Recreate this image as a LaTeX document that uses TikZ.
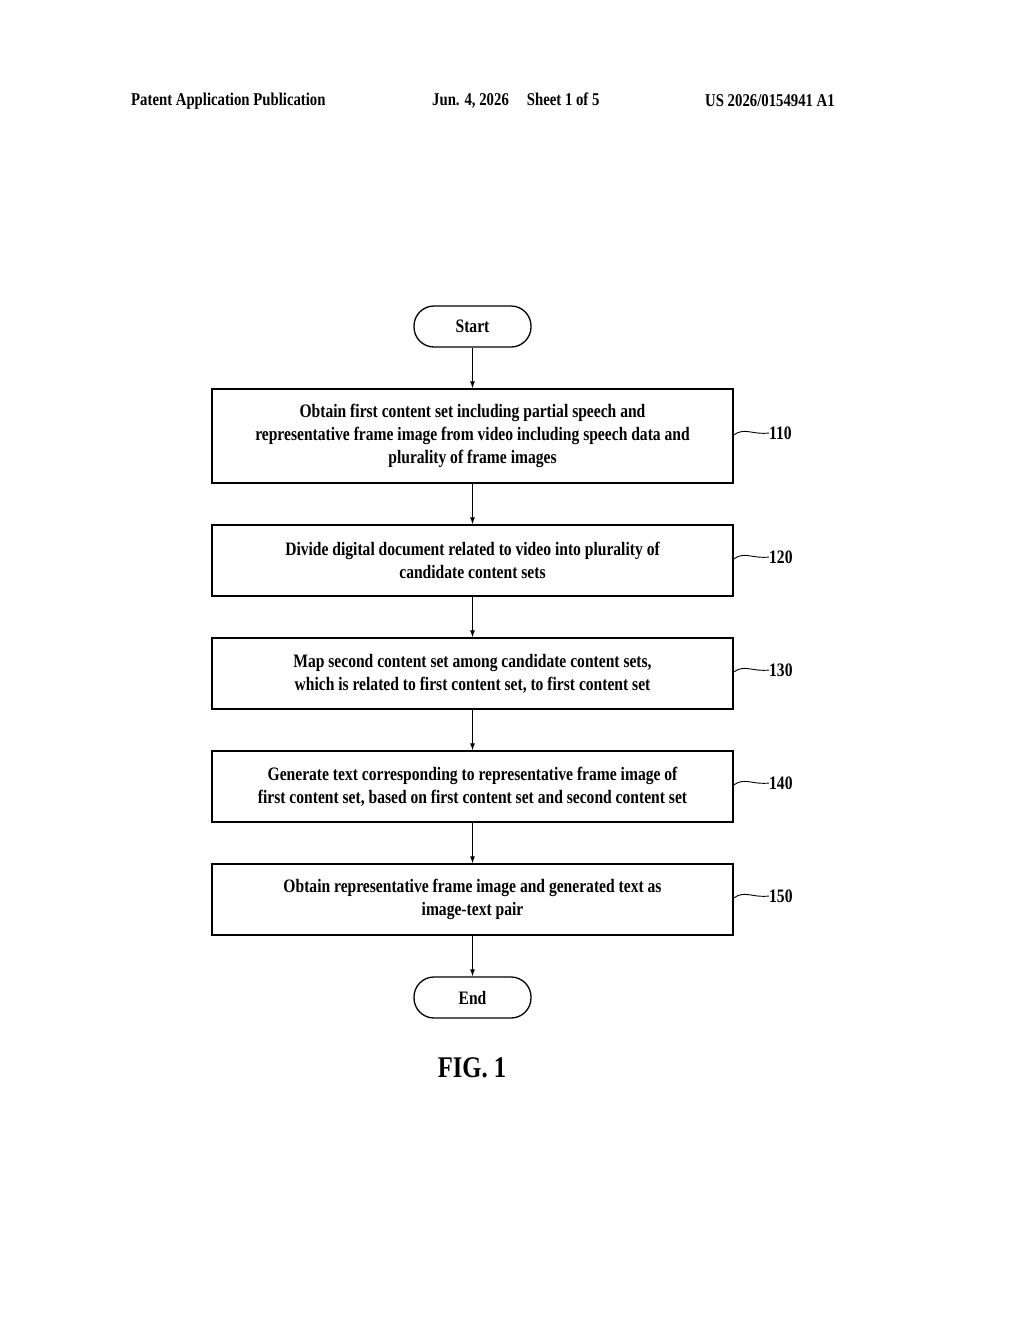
\documentclass[tikz,border=0pt]{standalone}
\usepackage{fontspec}
\setmainfont{Liberation Serif}[FakeStretch=0.82]
\usetikzlibrary{arrows.meta}
\begin{document}
\begin{tikzpicture}[x=1pt,y=-1pt,
  box/.style={draw,line width=1.3pt,minimum width=521pt,align=center,font=\bfseries\fontsize{19}{23}\selectfont,inner sep=0pt},
  term/.style={draw,line width=1.3pt,rounded corners=20pt,minimum width=117pt,minimum height=41pt,font=\bfseries\fontsize{19}{23}\selectfont},
  arr/.style={line width=1pt,-{Latex[length=7pt,width=5pt]}},
  lab/.style={font=\bfseries\fontsize{19}{23}\selectfont,anchor=west,inner sep=0pt},
  hdr/.style={font=\bfseries\fontsize{18}{22}\selectfont,anchor=west,inner sep=0pt}]
\useasboundingbox (0,0) rectangle (1024,1320);
\node[hdr] (h1) at (131,101) {Patent Application Publication};
\node[hdr] (h2) at (432,101) {Jun. 4, 2026\quad Sheet 1 of 5};
\node[hdr] (h3) at (705,101) {US 2026/0154941 A1};
\node[term] (s) at (472.5,326.5) {Start};
\node[box,minimum height=94pt] (b1) at (472.5,436) {Obtain first content set including partial speech and\\representative frame image from video including speech data and\\plurality of frame images};
\node[box,minimum height=71pt] (b2) at (472.5,560.5) {Divide digital document related to video into plurality of\\candidate content sets};
\node[box,minimum height=71pt] (b3) at (472.5,673.5) {Map second content set among candidate content sets,\\which is related to first content set, to first content set};
\node[box,minimum height=71pt] (b4) at (472.5,786.5) {Generate text corresponding to representative frame image of\\first content set, based on first content set and second content set};
\node[box,minimum height=71pt] (b5) at (472.5,899.5) {Obtain representative frame image and generated text as\\image-text pair};
\node[term] (e) at (472.5,997.5) {End};
\foreach \a/\b in {s/b1,b1/b2,b2/b3,b3/b4,b4/b5,b5/e} \draw[arr] (\a) -- (\b);
\foreach \b/\t/\y in {b1/110/433,b2/120/557,b3/130/670,b4/140/783,b5/150/896}{
  \node[lab] (l\t) at (769,\y) {\t};
  \draw[line width=0.9pt] (\b.east |- 0,\y+2) .. controls (745,\y-6) and (752,\y+2) .. (l\t.west);
}
\node[font=\bfseries\fontsize{30}{34}\selectfont] (fig) at (472,1068) {FIG. 1};
\end{tikzpicture}
\end{document}
